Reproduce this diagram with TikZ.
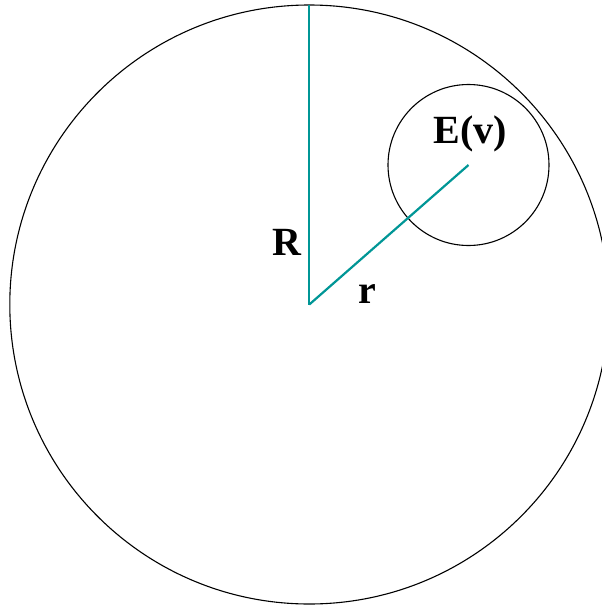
\documentclass[tikz,border=0pt]{standalone}
\usepackage{fontspec}
\setmainfont{Liberation Serif}
\begin{document}
\begin{tikzpicture}[x=1pt,y=-1pt]
    \tikzset{
        ring/.style={draw=black,line width=1.1pt},
        radius line/.style={draw=tealline,line width=2.2pt},
        label/.style={font=\fontsize{40}{42}\selectfont\bfseries,anchor=base,inner sep=0pt}
    }
    \definecolor{tealline}{RGB}{0,150,150}

    \useasboundingbox (0,0) rectangle (602,608);

    \coordinate (center) at (309.3,304.5);
    \coordinate (top) at (309.3,5);
    \coordinate (ev) at (468.5,165);

    \draw[ring] (center) circle (299.5);
    \draw[ring] (ev) circle (80.5);

    \draw[radius line] (center) -- (top);
    \draw[radius line] (center) -- (ev);

    \node[label] (bigR) at (286.7,255) {R};
    \node[label] (smallr) at (367.5,303) {r};
    \node[label] (evlabel) at (470,143) {E(v)};
\end{tikzpicture}
\end{document}
